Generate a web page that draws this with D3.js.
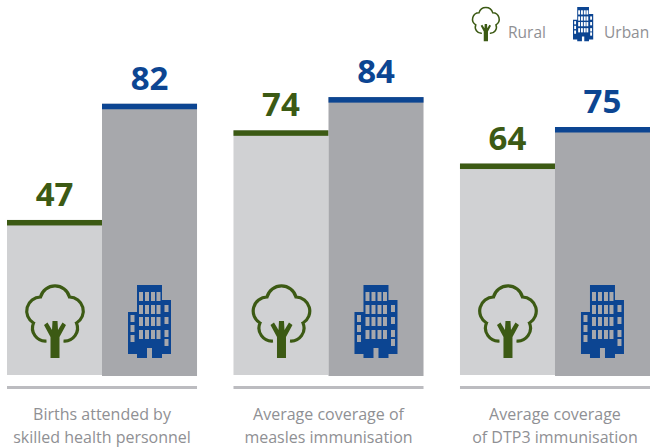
<!DOCTYPE html>
<html>
<head>
<meta charset="utf-8">
<script src="https://d3js.org/d3.v7.min.js"></script>
<style>
  html, body { margin: 0; padding: 0; background: #fff; }
  svg { display: block; }
  text { font-family: "Open Sans", sans-serif; }
</style>
</head>
<body>
<div id="chart"></div>
<script>
// values
const categories = ['births', 'measles', 'dtp3']
const series = ['Rural', 'Urban']
const rural = [47, 74, 64]
const urban = [82, 84, 75]
const labels = [
    ['Births attended by', 'skilled health personnel'],
    ['Average coverage of', 'measles immunisation'],
    ['Average coverage', 'of DTP3 immunisation']
]

const width = 650
const height = 448
const green = '#3c5a14'
const blue = '#0c4592'
const greyText = '#8f9094'

const svg = d3.select('#chart').append('svg')
    .attr('width', width)
    .attr('height', height)

const x = d3.scaleBand().domain(categories).range([7, 650]).paddingInner(0.161).paddingOuter(0)
const xInner = d3.scaleBand().domain(series).range([0, x.bandwidth()])
const y = d3.scaleLinear().domain([0, 100]).range([376, 44])

const barColor = { Rural: '#d0d1d3', Urban: '#a7a8ac' }
const capColor = { Rural: green, Urban: blue }

// tree icon, 59 wide and 73 high at scale 1
function drawTree(g, color) {
    g.append('path')
        .attr('d', 'M21,56 A13,13 0 0 1 8,38 A14,14 0 0 1 15,12 A15,15 0 0 1 44,12 A14,14 0 0 1 51,38 A13,13 0 0 1 38,56')
        .attr('fill', 'none')
        .attr('stroke', color)
        .attr('stroke-width', 3.2)
    g.append('path')
        .attr('d', 'M25,73 L25,52 L18.5,40 L22,37.5 L26.5,45 L27,36 L32,36 L32.5,45 L37,37.5 L40.5,40 L34,52 L34,73 Z')
        .attr('fill', color)
}

// building icon, 43 wide and 73 high at scale 1
function drawBuilding(g, color, back) {
    g.append('path')
        .attr('d', 'M9,0 H34 V15 H43 V69 H34 V73 H24 V63 H19 V73 H9 V69 H0 V27 H9 Z')
        .attr('fill', color)
    const cols = [11, 17, 23, 28.5]
    const rows = [7, 20, 32, 45]
    rows.forEach(r => cols.forEach(c => {
        g.append('rect').attr('x', c).attr('y', r).attr('width', 4).attr('height', 9).attr('fill', back)
    }))
    ;[[2.5, 30], [2.5, 40], [2.5, 50], [36.5, 20], [36.5, 32], [36.5, 45], [36.5, 54]].forEach(w => {
        g.append('rect').attr('x', w[0]).attr('y', w[1]).attr('width', 4).attr('height', 7).attr('fill', back)
    })
}

categories.forEach((c, i) => {
    const g = svg.append('g').attr('transform', `translate(${x(c)},0)`)
    const vals = [rural[i], urban[i]]

    series.forEach((s, j) => {
        const v = vals[j]
        // rural bars stop one pixel higher than urban ones
        g.append('rect')
            .attr('x', xInner(s))
            .attr('y', y(v))
            .attr('width', xInner.bandwidth())
            .attr('height', y(0) - y(v) - 1 + j)
            .attr('fill', barColor[s])
        g.append('rect')
            .attr('x', xInner(s))
            .attr('y', y(v))
            .attr('width', xInner.bandwidth())
            .attr('height', 5.5)
            .attr('fill', capColor[s])
        g.append('text')
            .attr('x', xInner(s) + xInner.bandwidth() / 2)
            .attr('y', y(v) - 14)
            .attr('text-anchor', 'middle')
            .attr('font-size', 33)
            .attr('font-weight', 700)
            .attr('fill', capColor[s])
            .text(v)
    })

    drawTree(g.append('g').attr('transform', 'translate(18.5,285)'), green)
    drawBuilding(g.append('g').attr('transform', 'translate(121,285)'), blue, barColor.Urban)

    // rule under each pair
    g.append('rect')
        .attr('x', 0).attr('y', 386)
        .attr('width', x.bandwidth()).attr('height', 3)
        .attr('fill', '#bcbcc0')

    g.append('text')
        .attr('text-anchor', 'middle')
        .attr('fill', greyText)
        .attr('font-size', 16)
        .selectAll('tspan')
        .data(labels[i])
        .join('tspan')
        .attr('x', x.bandwidth() / 2)
        .attr('y', (d, k) => 420 + k * 23)
        .text(d => d)
})

// legend
drawTree(svg.append('g').attr('transform', 'translate(472,7) scale(0.47)'), green)
drawBuilding(svg.append('g').attr('transform', 'translate(573,7) scale(0.47)'), blue, '#fff')
svg.append('text').attr('x', 508).attr('y', 38).attr('font-size', 15.5).attr('fill', greyText).text(series[0])
svg.append('text').attr('x', 604).attr('y', 38).attr('font-size', 15.5).attr('fill', greyText).text(series[1])
</script>
</body>
</html>
